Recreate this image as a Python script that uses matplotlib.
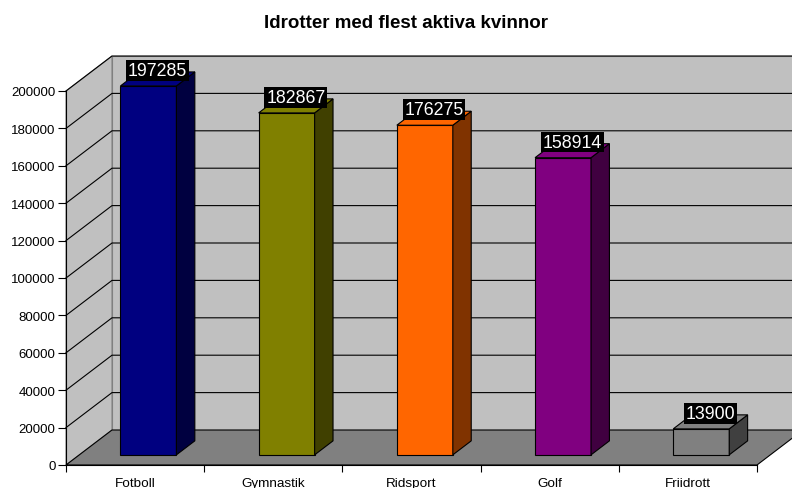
import numpy as np
import matplotlib
matplotlib.use("Agg")
import matplotlib.pyplot as plt
from matplotlib.patches import Polygon

plt.rcParams['font.family'] = ['Liberation Sans', 'DejaVu Sans']

# data
sports = ['Fotboll', 'Gymnastik', 'Ridsport', 'Golf', 'Friidrott']
women = [197285, 182867, 176275, 158914, 13900]
front_colors = ['#000080', '#808000', '#FF6600', '#800080', '#808080']
side_colors = ['#000040', '#404000', '#803300', '#400040', '#404040']
yticks = np.arange(0, 200001, 20000)
title = 'Idrotter med flest aktiva kvinnor'

# fake 3d geometry (depth shift in data units)
YMAX = 200000
DX = 46 / 138.2          # depth shift in category units
DY = 35 / 374 * YMAX     # depth shift in value units
F0, F1 = 0.29, 0.69      # bar depth range (fraction of floor depth)
BW = 0.405               # bar width in category units
XR = 5 + DX + 0.2        # right end of back wall (goes past figure edge)

fig = plt.figure(figsize=(7.92, 4.89), dpi=100)
ax = fig.add_axes([66 / 792, 23 / 489, 691 / 792, 374 / 489])
ax.set_xlim(0, 5)
ax.set_ylim(0, YMAX)
ax.patch.set_visible(False)

def poly(pts, fc, ec='#808080', lw=0.8, z=1):
    ax.add_patch(Polygon(pts, closed=True, facecolor=fc, edgecolor=ec,
                         linewidth=lw, zorder=z, clip_on=False))

# walls and floor
poly([(DX, DY), (XR, DY), (XR, YMAX + DY), (DX, YMAX + DY)], '#C0C0C0', z=0.5)
poly([(0, 0), (0, YMAX), (DX, YMAX + DY), (DX, DY)], '#C0C0C0', z=0.6)
poly([(0, 0), (5, 0), (5 + DX, DY), (DX, DY)], '#808080', ec='black', z=0.8)

# gridlines
for v in yticks[1:]:
    ax.plot([0, DX, XR], [v, v + DY, v + DY], color='black', lw=0.8,
            zorder=0.7, clip_on=False)

# bars
for i, (val, fc, sc) in enumerate(zip(women, front_colors, side_colors)):
    xl = i + 0.5 - BW / 2
    xr = i + 0.5 + BW / 2
    x0, y0 = F0 * DX, F0 * DY
    x1, y1 = F1 * DX, F1 * DY
    poly([(xl + x0, y0), (xr + x0, y0), (xr + x0, val + y0), (xl + x0, val + y0)],
         fc, ec='black', z=2)
    poly([(xr + x0, y0), (xr + x1, y1), (xr + x1, val + y1), (xr + x0, val + y0)],
         sc, ec='black', z=2)
    poly([(xl + x0, val + y0), (xr + x0, val + y0), (xr + x1, val + y1),
          (xl + x1, val + y1)], fc, ec='black', z=2)
    xm = i + 0.5 + (F0 + F1) / 2 * DX
    ym = val + (F0 + F1) / 2 * DY
    ax.text(xm, ym, str(val), ha='center', va='bottom', fontsize=12.8,
            color='white', zorder=3,
            bbox=dict(boxstyle='square,pad=0.1', facecolor='black', edgecolor='none'))

# axes
for s in ['top', 'right']:
    ax.spines[s].set_visible(False)
ax.spines['left'].set_zorder(4)
ax.spines['bottom'].set_zorder(4)
ax.set_yticks(yticks)
ax.set_yticklabels([str(v) for v in yticks])
ax.set_xticks(np.arange(0, 6))
ax.set_xticklabels([])
ax.set_xticks(np.arange(5) + 0.5, minor=True)
ax.set_xticklabels(sports, minor=True)
ax.tick_params(axis='x', which='minor', length=0, pad=9, labelsize=9.7)
ax.tick_params(axis='x', which='major', length=5, direction='out')
ax.tick_params(axis='y', length=5.5, direction='out', labelsize=9.5, pad=2)

fig.text(406 / 792, 1 - 23 / 489, title, ha='center', va='center',
         fontsize=13.5, fontweight='bold')

fig.savefig('out.png', dpi=100)
